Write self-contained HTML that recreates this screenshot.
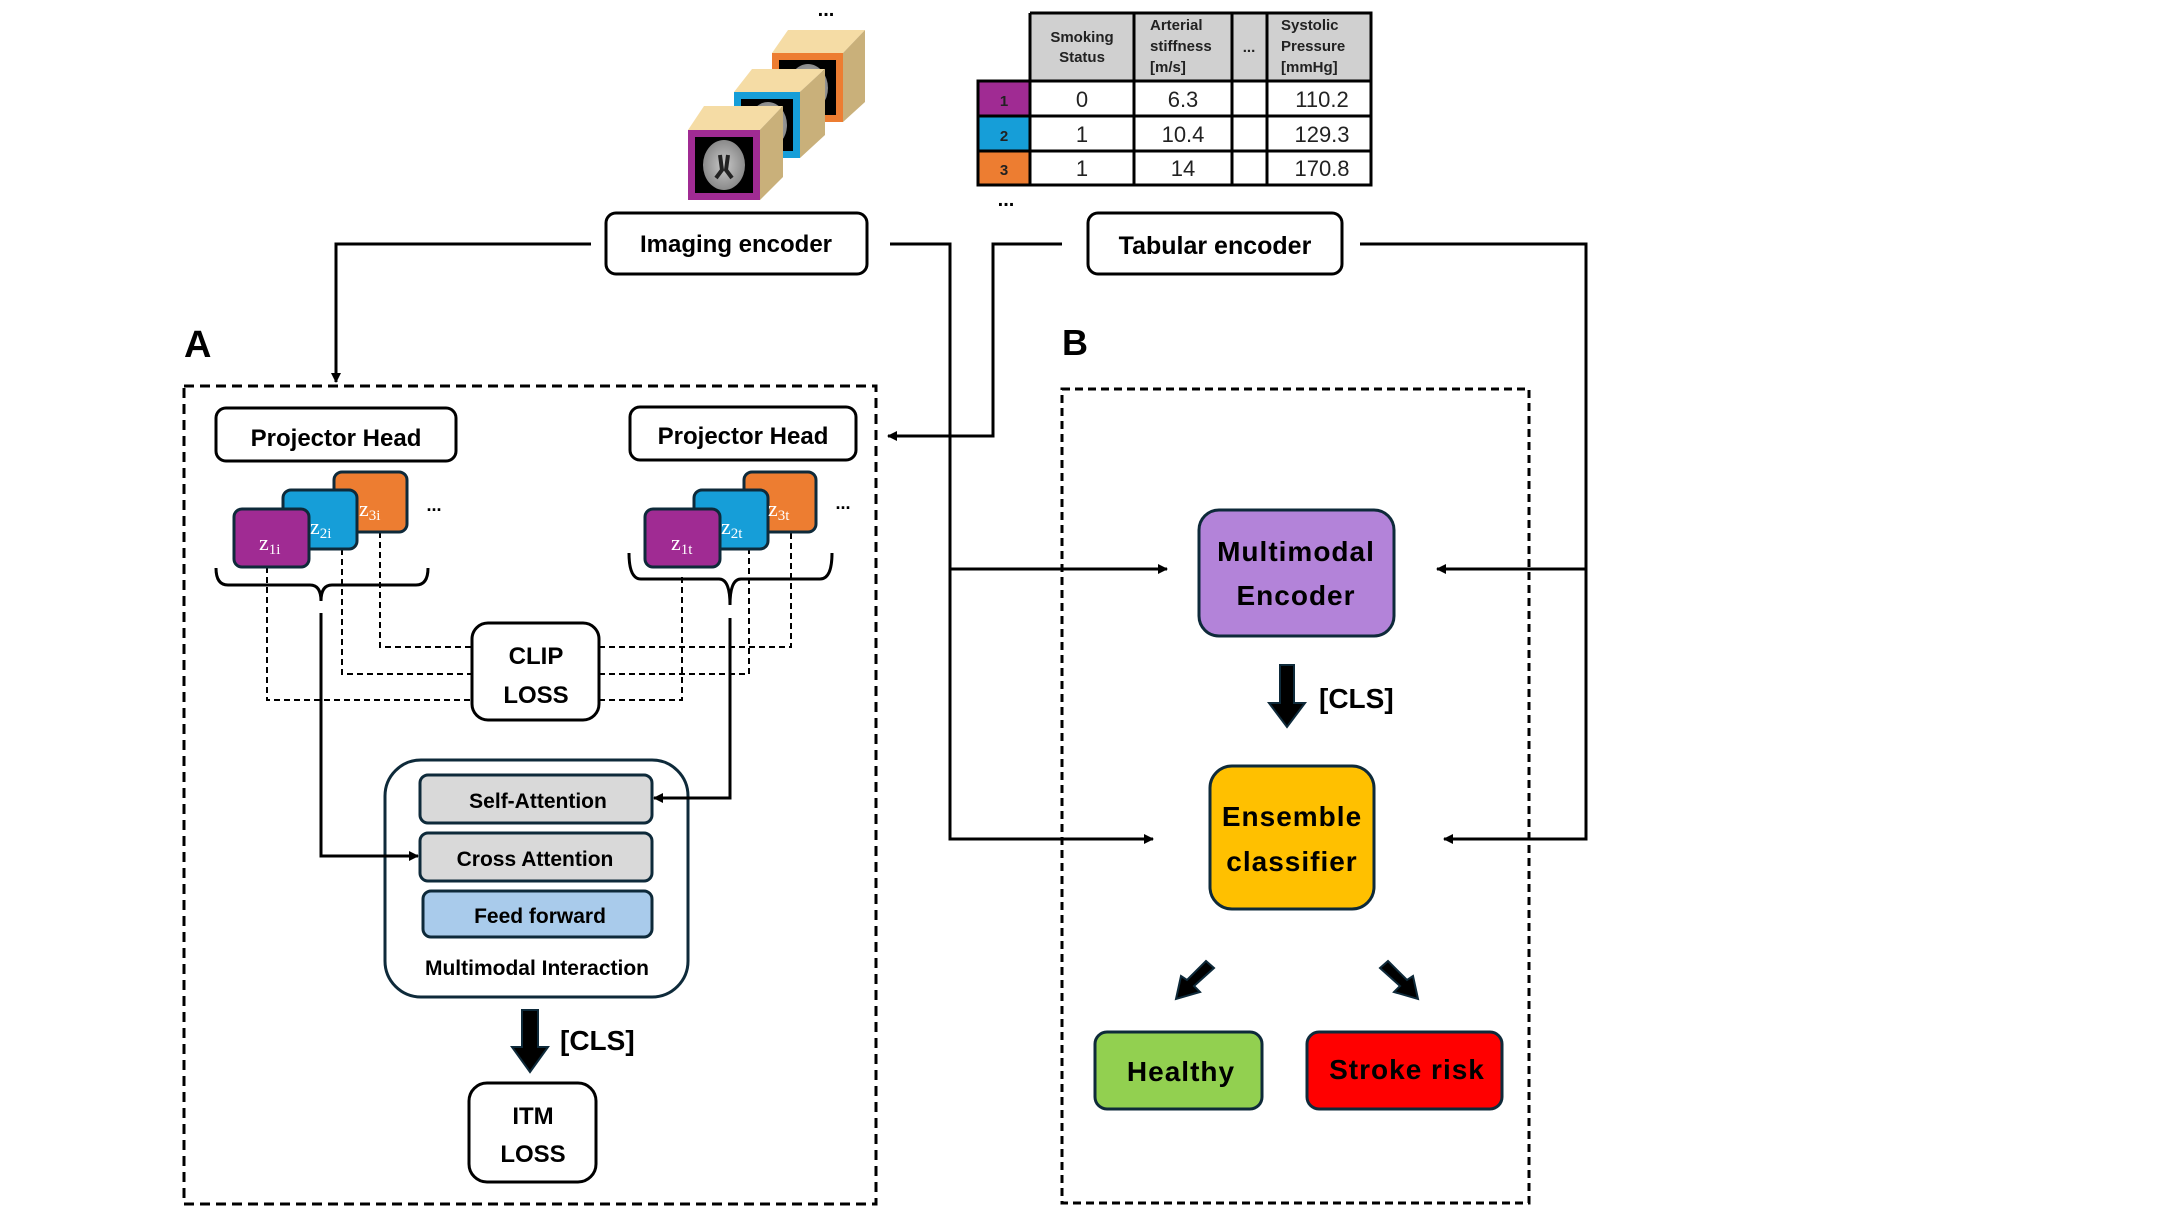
<!DOCTYPE html>
<html><head><meta charset="utf-8"><style>
html,body{margin:0;padding:0;background:#fff;}
svg{display:block;}
text{font-family:"Liberation Sans",sans-serif;}
text.serif, text.serif tspan{font-family:"Liberation Serif",serif;}
</style></head><body>
<svg width="2159" height="1214" viewBox="0 0 2159 1214" xmlns="http://www.w3.org/2000/svg">
<defs>
<marker id="ah" markerWidth="10" markerHeight="10" refX="9" refY="5" orient="auto" markerUnits="userSpaceOnUse"><path d="M0,0 L10,5 L0,10 z" fill="#000"/></marker>
<radialGradient id="br" cx="50%" cy="50%" r="50%"><stop offset="0" stop-color="#c8c8c8"/><stop offset="1" stop-color="#8a8a8a"/></radialGradient>
</defs>

<!-- cubes -->
<g>
<polygon points="772,53 788,30 865,30 843,53" fill="#f5dca5"/>
<polygon points="843,53 865,30 865,102 843,122" fill="#c9b07a"/>
<rect x="772" y="53" width="71" height="69" fill="#ed7d31"/>
<rect x="779" y="60" width="57" height="55" fill="#000"/>
<ellipse cx="808" cy="88" rx="20" ry="24" fill="url(#br)"/>

<polygon points="734,92 752,69 825,69 800,92" fill="#f5dca5"/>
<polygon points="800,92 825,69 825,135 800,158" fill="#c9b07a"/>
<rect x="734" y="92" width="66" height="66" fill="#169ed8"/>
<rect x="741" y="99" width="52" height="52" fill="#000"/>
<ellipse cx="768" cy="125" rx="19" ry="23" fill="url(#br)"/>

<polygon points="688,130 704,106 783,106 760,130" fill="#f5dca5"/>
<polygon points="760,130 783,106 783,177 760,200" fill="#c9b07a"/>
<rect x="688" y="130" width="72" height="70" fill="#a02b93"/>
<rect x="695" y="137" width="58" height="56" fill="#000"/>
<ellipse cx="724" cy="165" rx="21" ry="25" fill="url(#br)"/>
<path d="M720,155 L722,170 L716,178 M728,155 L726,170 L732,178" stroke="#222" stroke-width="4" fill="none"/>
<text x="826" y="16" font-size="20" font-weight="bold" text-anchor="middle">...</text>
</g>

<!-- table -->
<g>
<rect x="1030" y="13" width="341" height="68" fill="#d0d0d0"/>
<rect x="978" y="81" width="52" height="35" fill="#a02b93"/>
<rect x="978" y="116" width="52" height="35" fill="#169ed8"/>
<rect x="978" y="151" width="52" height="34" fill="#ed7d31"/>
<g stroke="#000" stroke-width="3" fill="none">
<path d="M1030,13 H1371 V185 H978 V81 H1371 M978,116 H1371 M978,151 H1371 M1030,13 V185 M1134,13 V185 M1232,13 V185 M1267,13 V185"/>
</g>
<g font-size="15" font-weight="bold" fill="#222">
<text x="1082" y="42" text-anchor="middle">Smoking</text>
<text x="1082" y="62" text-anchor="middle">Status</text>
<text x="1150" y="30">Arterial</text>
<text x="1150" y="51">stiffness</text>
<text x="1150" y="72">[m/s]</text>
<text x="1249" y="52" text-anchor="middle">...</text>
<text x="1281" y="30">Systolic</text>
<text x="1281" y="51">Pressure</text>
<text x="1281" y="72">[mmHg]</text>
<text x="1004" y="106" text-anchor="middle">1</text>
<text x="1004" y="141" text-anchor="middle">2</text>
<text x="1004" y="175" text-anchor="middle">3</text>
</g>
<g font-size="22" fill="#222" text-anchor="middle">
<text x="1082" y="107">0</text><text x="1183" y="107">6.3</text><text x="1322" y="107">110.2</text>
<text x="1082" y="142">1</text><text x="1183" y="142">10.4</text><text x="1322" y="142">129.3</text>
<text x="1082" y="176">1</text><text x="1183" y="176">14</text><text x="1322" y="176">170.8</text>
</g>
<text x="1006" y="206" font-size="20" font-weight="bold" text-anchor="middle">...</text>
</g>

<!-- encoders -->
<rect x="606" y="213" width="261" height="61" rx="10" fill="#fff" stroke="#000" stroke-width="3"/>
<text x="736" y="252" font-size="24" font-weight="bold" text-anchor="middle">Imaging encoder</text>
<rect x="1088" y="213" width="254" height="61" rx="10" fill="#fff" stroke="#000" stroke-width="3"/>
<text x="1215" y="254" font-size="25" font-weight="bold" text-anchor="middle">Tabular encoder</text>

<!-- connectors top -->
<g stroke="#000" stroke-width="3" fill="none">
<path d="M591,244 H336 V382" marker-end="url(#ah)"/>
<path d="M890,244 H950 V569 H1167" marker-end="url(#ah)"/>
<path d="M950,569 V839 H1153" marker-end="url(#ah)"/>
<path d="M1062,244 H993 V436 H888" marker-end="url(#ah)"/>
<path d="M1360,244 H1586 V569 H1437" marker-end="url(#ah)"/>
<path d="M1586,569 V839 H1444" marker-end="url(#ah)"/>
</g>

<!-- A -->
<text x="184" y="357" font-size="38" font-weight="bold">A</text>
<rect x="184" y="386" width="692" height="818" fill="none" stroke="#000" stroke-width="3" stroke-dasharray="10,6"/>

<rect x="216" y="408" width="240" height="53" rx="10" fill="#fff" stroke="#000" stroke-width="3"/>
<text x="336" y="446" font-size="24" font-weight="bold" text-anchor="middle">Projector Head</text>
<rect x="630" y="407" width="226" height="53" rx="10" fill="#fff" stroke="#000" stroke-width="3"/>
<text x="743" y="444" font-size="24" font-weight="bold" text-anchor="middle">Projector Head</text>

<!-- dashed links -->
<g stroke="#000" stroke-width="2" fill="none" stroke-dasharray="6,4">
<path d="M380,532 V647 H471"/>
<path d="M342,549 V674 H471"/>
<path d="M267,567 V700 H471"/>
<path d="M599,647 H791 V532"/>
<path d="M599,674 H749 V549"/>
<path d="M599,700 H682 V573"/>
</g>

<!-- squares -->
<g stroke="#0e2a3a" stroke-width="3">
<rect x="334" y="472" width="73" height="60" rx="8" fill="#ed7d31"/>
<rect x="283" y="490" width="74" height="59" rx="8" fill="#169ed8"/>
<rect x="234" y="509" width="75" height="58" rx="8" fill="#a02b93"/>
<rect x="744" y="472" width="72" height="60" rx="8" fill="#ed7d31"/>
<rect x="694" y="490" width="74" height="59" rx="8" fill="#169ed8"/>
<rect x="645" y="509" width="75" height="58" rx="8" fill="#a02b93"/>
</g>
<g fill="#fff" font-size="22">
<text class="serif" x="359" y="516">z<tspan font-size="15" dy="4">3i</tspan></text>
<text class="serif" x="310" y="534">z<tspan font-size="15" dy="4">2i</tspan></text>
<text class="serif" x="259" y="550">z<tspan font-size="15" dy="4">1i</tspan></text>
<text class="serif" x="768" y="516">z<tspan font-size="15" dy="4">3t</tspan></text>
<text class="serif" x="721" y="534">z<tspan font-size="15" dy="4">2t</tspan></text>
<text class="serif" x="671" y="550">z<tspan font-size="15" dy="4">1t</tspan></text>
</g>
<text x="434" y="511" font-size="18" font-weight="bold" text-anchor="middle">...</text>
<text x="843" y="509" font-size="18" font-weight="bold" text-anchor="middle">...</text>

<!-- braces -->
<g stroke="#000" stroke-width="3" fill="none">
<path d="M216,568 Q216,585 228,585 H310 Q321,585 321,601 Q321,585 332,585 H416 Q428,585 428,568"/>
<path d="M629,553 Q629,579 641,579 H719 Q730,579 730,605 Q730,579 741,579 H820 Q832,579 832,553"/>
</g>

<!-- CLIP -->
<rect x="472" y="623" width="127" height="97" rx="16" fill="#fff" stroke="#000" stroke-width="3"/>
<text x="536" y="664" font-size="24" font-weight="bold" text-anchor="middle">CLIP</text>
<text x="536" y="703" font-size="24" font-weight="bold" text-anchor="middle">LOSS</text>

<!-- Multimodal interaction -->
<rect x="385" y="760" width="303" height="237" rx="36" fill="#fff" stroke="#0e2a3a" stroke-width="3"/>
<rect x="420" y="775" width="232" height="48" rx="8" fill="#d9d9d9" stroke="#0e2a3a" stroke-width="3"/>
<text x="538" y="808" font-size="21" font-weight="bold" text-anchor="middle">Self-Attention</text>
<rect x="420" y="833" width="232" height="48" rx="8" fill="#d9d9d9" stroke="#0e2a3a" stroke-width="3"/>
<text x="535" y="866" font-size="21" font-weight="bold" text-anchor="middle">Cross Attention</text>
<rect x="423" y="891" width="229" height="46" rx="8" fill="#a9cbeb" stroke="#0e2a3a" stroke-width="3"/>
<text x="540" y="923" font-size="21" font-weight="bold" text-anchor="middle">Feed forward</text>
<text x="537" y="975" font-size="21" font-weight="bold" text-anchor="middle">Multimodal Interaction</text>

<!-- solid arrows into attention (drawn on top) -->
<g stroke="#000" stroke-width="3" fill="none">
<path d="M321,613 V856 H418" marker-end="url(#ah)"/>
<path d="M730,618 V798 H654" marker-end="url(#ah)"/>
</g>

<!-- thick arrow A -->
<path d="M522,1010 H538 V1047 H548 L530,1072 L512,1047 H522 Z" fill="#000" stroke="#0e2a3a" stroke-width="2"/>
<text x="560" y="1050" font-size="28" font-weight="bold">[CLS]</text>
<rect x="469" y="1083" width="127" height="99" rx="18" fill="#fff" stroke="#000" stroke-width="3"/>
<text x="533" y="1124" font-size="24" font-weight="bold" text-anchor="middle">ITM</text>
<text x="533" y="1162" font-size="24" font-weight="bold" text-anchor="middle">LOSS</text>

<!-- B -->
<text x="1062" y="355" font-size="36" font-weight="bold">B</text>
<rect x="1062" y="389" width="467" height="814" fill="none" stroke="#000" stroke-width="3" stroke-dasharray="8,5"/>

<rect x="1199" y="510" width="195" height="126" rx="20" fill="#b383d9" stroke="#0e2a3a" stroke-width="3"/>
<text x="1296" y="561" font-size="28" font-weight="bold" text-anchor="middle" letter-spacing="1">Multimodal</text>
<text x="1296" y="605" font-size="28" font-weight="bold" text-anchor="middle" letter-spacing="1">Encoder</text>

<path d="M1280,665 H1294 V703 H1305 L1287,727 L1269,703 H1280 Z" fill="#000" stroke="#0e2a3a" stroke-width="2"/>
<text x="1319" y="708" font-size="28" font-weight="bold">[CLS]</text>

<rect x="1210" y="766" width="164" height="143" rx="22" fill="#ffc000" stroke="#0e2a3a" stroke-width="3"/>
<text x="1292" y="826" font-size="28" font-weight="bold" text-anchor="middle" letter-spacing="1">Ensemble</text>
<text x="1292" y="871" font-size="28" font-weight="bold" text-anchor="middle" letter-spacing="1">classifier</text>

<g fill="#000" stroke="#0e2a3a" stroke-width="2">
<polygon points="1206,961 1214,968 1194,986 1200,992 1176,999 1181,976 1187,980"/>
<polygon points="1388,961 1380,968 1400,986 1394,992 1418,999 1413,976 1407,980"/>
</g>

<rect x="1095" y="1032" width="167" height="77" rx="12" fill="#92d050" stroke="#0e2a3a" stroke-width="3"/>
<text x="1181" y="1081" font-size="28" font-weight="bold" text-anchor="middle" letter-spacing="1">Healthy</text>
<rect x="1307" y="1032" width="195" height="77" rx="12" fill="#ff0000" stroke="#0e2a3a" stroke-width="3"/>
<text x="1407" y="1079" font-size="28" font-weight="bold" text-anchor="middle" letter-spacing="1">Stroke risk</text>
</svg>
</body></html>
